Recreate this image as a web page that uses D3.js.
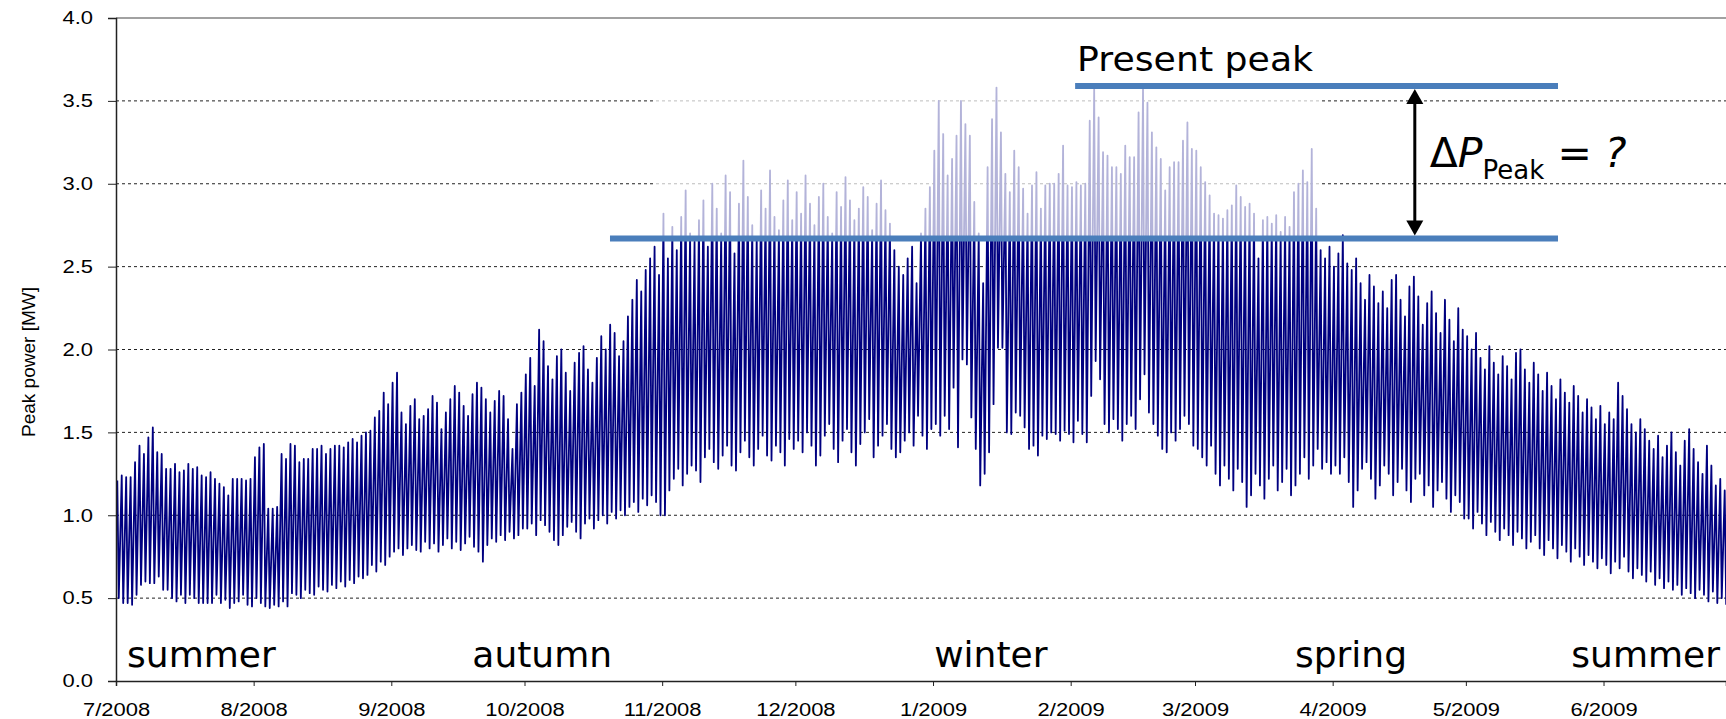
<!DOCTYPE html>
<html>
<head>
<meta charset="utf-8">
<script src="https://cdn.jsdelivr.net/npm/d3@7"></script>
<style>
  body { margin: 0; background: #fff; }
</style>
</head>
<body>
<div id="chart"></div>
<script>
// Daily peak power [MW]: day maximum (high) and night minimum (low), one entry per day
var jul08High = [1.21,1.24,1.23,1.23,1.32,1.42,1.37,1.47,1.53,1.38,1.37,1.28,1.28,1.31,1.26,1.27,1.31,1.28,1.29,1.24,1.23,1.26,1.22,1.19,1.17,1.12,1.22,1.22,1.22,1.21,1.22];
var jul08Low  = [0.50,0.47,0.47,0.46,0.52,0.58,0.60,0.59,0.59,0.63,0.55,0.55,0.50,0.48,0.52,0.47,0.52,0.50,0.47,0.47,0.47,0.47,0.52,0.47,0.49,0.44,0.47,0.48,0.52,0.46,0.45];
var aug08High = [1.35,1.41,1.43,1.04,1.04,1.05,1.37,1.34,1.43,1.42,1.32,1.34,1.34,1.40,1.40,1.42,1.37,1.40,1.42,1.42,1.41,1.44,1.46,1.44,1.48,1.50,1.51,1.59,1.63,1.74,1.67];
var aug08Low  = [0.50,0.47,0.45,0.44,0.46,0.45,0.48,0.45,0.53,0.52,0.50,0.55,0.53,0.52,0.57,0.55,0.54,0.58,0.56,0.60,0.57,0.61,0.59,0.63,0.62,0.64,0.70,0.66,0.72,0.70,0.75];
var sep08High = [1.80,1.86,1.62,1.55,1.66,1.70,1.58,1.60,1.64,1.72,1.68,1.52,1.62,1.70,1.78,1.74,1.66,1.60,1.73,1.80,1.77,1.70,1.62,1.69,1.75,1.72,1.58,1.40,1.67,1.74];
var sep08Low  = [0.78,0.80,0.76,0.80,0.82,0.79,0.78,0.84,0.80,0.83,0.78,0.82,0.86,0.80,0.84,0.79,0.83,0.87,0.81,0.78,0.72,0.82,0.86,0.84,0.88,0.85,0.90,0.86,0.88,0.92];
var oct08High = [1.85,1.95,1.78,2.12,2.05,1.90,1.82,1.96,2.00,1.86,1.75,1.92,1.98,2.02,1.88,1.80,1.95,2.08,2.00,2.15,2.10,1.96,2.05,2.20,2.30,2.42,2.35,2.48,2.55,2.62,2.45];
var oct08Low  = [0.92,0.95,0.88,0.97,0.94,0.90,0.85,0.82,0.88,0.93,0.96,0.90,0.86,0.95,0.98,0.92,0.97,1.00,0.95,1.02,0.98,1.03,1.00,1.05,1.08,1.02,1.10,1.06,1.12,1.08,1.00];
var nov08High = [2.82,2.55,2.74,2.60,2.80,2.96,2.70,2.65,2.78,2.90,2.62,3.00,2.85,2.70,3.05,2.95,2.58,2.88,3.14,2.92,2.75,2.68,2.96,2.85,3.08,2.80,2.72,2.90,3.02,2.78];
var nov08Low  = [1.00,1.15,1.22,1.28,1.18,1.25,1.30,1.27,1.20,1.35,1.40,1.32,1.28,1.36,1.42,1.30,1.27,1.38,1.45,1.35,1.30,1.40,1.48,1.36,1.33,1.42,1.38,1.30,1.46,1.40];
var dec08High = [2.95,2.82,3.05,2.88,2.75,2.92,3.00,2.80,2.70,2.95,2.86,3.04,2.90,2.78,2.85,2.98,2.92,2.72,2.88,3.02,2.84,2.76,2.60,2.50,2.45,2.55,2.62,2.40,2.70,2.85,2.98];
var dec08Low  = [1.45,1.38,1.50,1.42,1.30,1.36,1.48,1.55,1.40,1.32,1.45,1.52,1.38,1.30,1.43,1.50,1.58,1.35,1.42,1.48,1.55,1.40,1.35,1.38,1.45,1.50,1.42,1.60,1.48,1.40,1.52];
var jan09High = [3.20,3.50,3.30,3.05,3.15,3.29,3.50,3.36,3.29,2.89,2.70,2.40,3.10,3.39,3.58,3.31,3.06,2.95,3.20,3.10,2.97,2.82,2.99,3.07,2.85,2.99,3.00,3.00,3.06,3.23,2.99];
var jan09Low  = [1.55,1.48,1.60,1.52,1.77,1.41,1.94,1.91,1.59,1.40,1.18,1.25,1.38,1.67,2.01,2.01,1.50,1.49,1.62,1.60,1.53,1.40,1.42,1.36,1.48,1.46,1.50,1.49,1.45,1.51,1.49];
var feb09High = [2.98,3.01,2.99,3.00,3.38,3.57,3.40,3.19,3.17,3.10,3.10,3.06,3.23,3.16,3.16,3.43,3.57,3.49,3.31,3.22,3.15,2.96,3.10,3.13,3.13,3.26,3.37,3.21];
var feb09Low  = [1.44,1.57,1.49,1.44,1.72,1.93,1.82,1.55,1.50,1.58,1.52,1.45,1.55,1.60,1.52,1.70,1.85,1.62,1.55,1.48,1.40,1.38,1.50,1.45,1.52,1.60,1.55,1.42];
var mar09High = [3.20,3.10,3.01,2.93,2.82,2.81,2.79,2.84,2.87,2.99,2.92,2.86,2.88,2.82,2.55,2.78,2.80,2.76,2.81,2.71,2.80,2.74,2.95,3.00,3.08,3.01,3.21,2.85,2.60,2.55,2.62];
var mar09Low  = [1.40,1.35,1.30,1.42,1.25,1.18,1.30,1.22,1.15,1.28,1.20,1.05,1.12,1.25,1.18,1.10,1.22,1.30,1.15,1.20,1.28,1.12,1.18,1.25,1.35,1.22,1.30,1.40,1.28,1.32,1.25];
var apr09High = [2.50,2.58,2.69,2.52,2.48,2.55,2.40,2.30,2.45,2.38,2.28,2.35,2.25,2.42,2.45,2.30,2.20,2.38,2.44,2.32,2.15,2.28,2.35,2.22,2.10,2.30,2.18,2.05,2.25,2.12];
var apr09Low  = [1.30,1.25,1.35,1.20,1.05,1.15,1.28,1.32,1.22,1.10,1.18,1.30,1.25,1.12,1.20,1.28,1.15,1.08,1.22,1.25,1.12,1.18,1.05,1.15,1.20,1.10,1.02,1.12,1.08,0.98];
var may09High = [2.08,2.00,2.10,1.95,1.88,2.02,1.92,1.85,1.96,1.90,1.82,1.98,2.00,1.88,1.80,1.92,1.85,1.75,1.86,1.78,1.70,1.82,1.74,1.68,1.78,1.72,1.62,1.70,1.65,1.58,1.66];
var may09Low  = [0.98,0.92,1.02,0.95,0.88,0.96,0.90,0.85,0.92,0.88,0.82,0.90,0.86,0.80,0.84,0.88,0.80,0.76,0.85,0.80,0.74,0.82,0.78,0.72,0.80,0.75,0.70,0.76,0.72,0.68,0.74];
var jun09High = [1.55,1.62,1.58,1.80,1.72,1.64,1.55,1.50,1.58,1.52,1.45,1.40,1.48,1.35,1.42,1.50,1.38,1.30,1.45,1.52,1.40,1.32,1.25,1.42,1.30,1.18,1.22,1.15];
var jun09Low  = [0.70,0.65,0.72,0.68,0.75,0.66,0.62,0.68,0.64,0.60,0.66,0.58,0.62,0.56,0.60,0.55,0.58,0.52,0.56,0.53,0.50,0.55,0.52,0.48,0.54,0.47,0.50,0.46];

var monthStarts = ["2008-07-01","2008-08-01","2008-09-01","2008-10-01","2008-11-01","2008-12-01",
                   "2009-01-01","2009-02-01","2009-03-01","2009-04-01","2009-05-01","2009-06-01"];
var monthHighs = [jul08High, aug08High, sep08High, oct08High, nov08High, dec08High,
                  jan09High, feb09High, mar09High, apr09High, may09High, jun09High];
var monthLows  = [jul08Low, aug08Low, sep08Low, oct08Low, nov08Low, dec08Low,
                  jan09Low, feb09Low, mar09Low, apr09Low, may09Low, jun09Low];

var yTicks = [0, 0.5, 1, 1.5, 2, 2.5, 3, 3.5, 4];
var seasons = ["summer", "autumn", "winter", "spring", "summer"];
var seasonDates = ["2008-07-03T12:00", "2008-09-19T06:00", "2009-01-01T06:00", "2009-03-23T12:00", "2009-05-24T18:00"];

var presentPeak = 3.59;
var newPeak = 2.67;

var parse = d3.timeParse("%Y-%m-%d");
var parseT = d3.timeParse("%Y-%m-%dT%H:%M");

// build the series: for each day the high (daytime) then the low (night)
var series = [];
monthStarts.forEach(function(m, mi) {
  var start = parse(m);
  monthHighs[mi].forEach(function(v, i) {
    var day = d3.timeDay.offset(start, i);
    series.push({ date: d3.timeHour.offset(day, 7), value: v });
    series.push({ date: d3.timeHour.offset(day, 15), value: monthLows[mi][i] });
  });
});

var chartWidth = 1726, chartHeight = 719;
var plotLeft = 116, plotRight = 1726, plotTop = 18, plotBottom = 681;

var x = d3.scaleTime()
  .domain([parse("2008-07-01"), parseT("2009-06-28T14:00")])
  .range([plotLeft, plotRight]);

var y = d3.scaleLinear()
  .domain([0, 4])
  .range([plotBottom, plotTop]);

var svg = d3.select("#chart").append("svg")
  .attr("width", chartWidth)
  .attr("height", chartHeight);

// grid
svg.append("g").selectAll("line")
  .data(yTicks.filter(function(d) { return d > 0 && d < 4; }))
  .enter().append("line")
  .attr("x1", plotLeft).attr("x2", plotRight)
  .attr("y1", function(d) { return y(d); })
  .attr("y2", function(d) { return y(d); })
  .attr("stroke", "#222")
  .attr("stroke-width", 1)
  .attr("stroke-dasharray", "3,3");

svg.append("line")
  .attr("x1", plotLeft).attr("x2", plotRight)
  .attr("y1", y(4)).attr("y2", y(4))
  .attr("stroke", "#444").attr("stroke-width", 1.2);

// data line
var line = d3.line()
  .x(function(d) { return x(d.date); })
  .y(function(d) { return y(d.value); });

svg.append("path")
  .datum(series)
  .attr("fill", "none")
  .attr("stroke", "#000080")
  .attr("stroke-width", 1.8)
  .attr("stroke-linejoin", "round")
  .attr("d", line);

// fade the part of the winter peaks that would be shaved off
var fadeFrom = parseT("2008-10-30T10:00"), fadeTo = parseT("2009-03-29T14:00");
svg.append("rect")
  .attr("x", x(fadeFrom))
  .attr("y", y(4) + 1)
  .attr("width", x(fadeTo) - x(fadeFrom))
  .attr("height", y(newPeak) - y(4) - 1)
  .attr("fill", "#fff")
  .attr("opacity", 0.7);

// axes
var yAxis = d3.axisLeft(y)
  .tickValues(yTicks)
  .tickFormat(d3.format(".1f"))
  .tickSize(8)
  .tickPadding(15);

var xAxis = d3.axisBottom(x)
  .tickValues(monthStarts.map(parse))
  .tickFormat(function(d) { return (d.getMonth() + 1) + "/" + d.getFullYear(); })
  .tickSize(5)
  .tickPadding(17);

var gy = svg.append("g")
  .attr("transform", "translate(" + plotLeft + ",0)")
  .call(yAxis);

var gx = svg.append("g")
  .attr("transform", "translate(0," + plotBottom + ")")
  .call(xAxis);

[gx, gy].forEach(function(g) {
  g.select(".domain").attr("stroke", "#222").attr("stroke-width", 1.5);
  g.selectAll(".tick line").attr("stroke", "#222");
  g.selectAll("text")
    .attr("font-family", "Liberation Sans, Arial, sans-serif")
    .attr("font-size", 18)
    .attr("fill", "#000")
    .each(function() {
      var w = this.getComputedTextLength();
      d3.select(this).attr("textLength", w * 1.22).attr("lengthAdjust", "spacingAndGlyphs");
    });
});

svg.append("text")
  .attr("transform", "translate(28,362) rotate(-90)")
  .attr("text-anchor", "middle")
  .attr("dy", "0.35em")
  .attr("font-family", "Liberation Sans, Arial, sans-serif")
  .attr("font-size", 19)
  .text("Peak power [MW]");

// peak lines
var newPeakFrom = parseT("2008-10-20T06:00"), peakTo = parseT("2009-05-21T18:00");
var presentFrom = parseT("2009-02-02T00:00");

svg.append("line")
  .attr("x1", x(newPeakFrom)).attr("x2", x(peakTo))
  .attr("y1", y(newPeak)).attr("y2", y(newPeak))
  .attr("stroke", "#4a7ebb").attr("stroke-width", 6);

svg.append("line")
  .attr("x1", x(presentFrom)).attr("x2", x(peakTo))
  .attr("y1", y(presentPeak)).attr("y2", y(presentPeak))
  .attr("stroke", "#4a7ebb").attr("stroke-width", 6);

// double arrow
var arrowDate = parseT("2009-04-19T12:00");
var ax = x(arrowDate), ay1 = y(presentPeak) + 3, ay2 = y(newPeak) - 3;
svg.append("line")
  .attr("x1", ax).attr("x2", ax)
  .attr("y1", ay1 + 12).attr("y2", ay2 - 12)
  .attr("stroke", "#000").attr("stroke-width", 3);
svg.append("path")
  .attr("d", "M" + ax + "," + ay1 + "l-8.5,15h17z")
  .attr("fill", "#000");
svg.append("path")
  .attr("d", "M" + ax + "," + ay2 + "l-8.5,-15h17z")
  .attr("fill", "#000");

// annotations
svg.append("text")
  .attr("x", x(presentFrom) + 2)
  .attr("y", y(presentPeak) - 15)
  .attr("font-family", "DejaVu Sans, sans-serif")
  .attr("font-size", 33)
  .attr("textLength", 236)
  .attr("lengthAdjust", "spacingAndGlyphs")
  .text("Present peak");

var dp = svg.append("text")
  .attr("x", ax + 15)
  .attr("y", 167)
  .attr("font-family", "DejaVu Sans, sans-serif")
  .attr("font-size", 41);
dp.append("tspan").text("\u0394");
dp.append("tspan").attr("font-style", "italic").text("P");
dp.append("tspan").attr("font-size", 26).attr("dy", 12).text("Peak");
dp.append("tspan").attr("dy", -12).text(" = ");
dp.append("tspan").attr("font-style", "italic").text("?");

svg.append("g").selectAll("text")
  .data(seasons)
  .enter().append("text")
  .attr("x", function(d, i) { return x(parseT(seasonDates[i])); })
  .attr("y", 667)
  .attr("font-family", "DejaVu Sans, sans-serif")
  .attr("font-size", 36)
  .text(function(d) { return d; });
</script>
</body>
</html>
